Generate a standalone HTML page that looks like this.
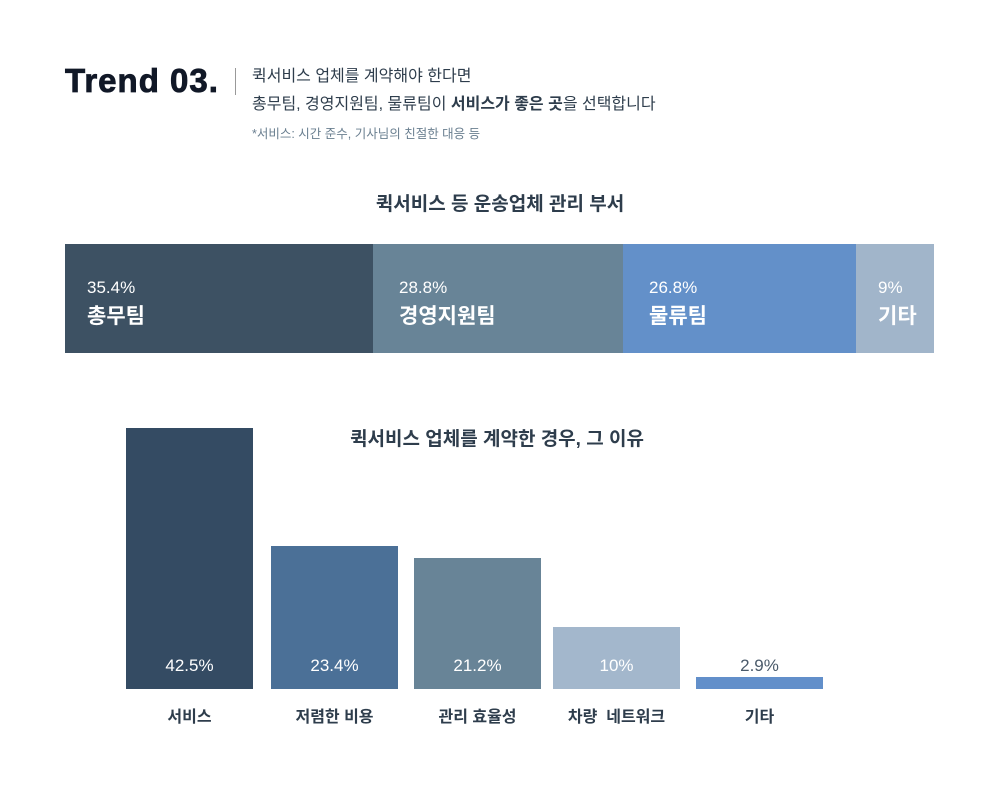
<!DOCTYPE html>
<html><head><meta charset="utf-8"><style>
body{margin:0;width:1000px;height:787px;background:#fff;position:relative;overflow:hidden;font-family:"Liberation Sans","Noto Sans CJK KR",sans-serif;color:#2e3d4c}
.a{position:absolute}
.seg{position:absolute;top:244px;height:109px;color:#fff}
.seg .p{position:absolute;left:22px;top:34px;font-size:17px}
.seg .n{position:absolute;left:22px;top:56px;font-size:21px;font-weight:bold}
.bar{position:absolute;bottom:98px;width:127px}
.v{position:absolute;top:656px;width:127px;text-align:center;font-size:17px;color:#fff}
.l{position:absolute;top:703px;width:127px;text-align:center;font-size:16px;font-weight:bold;white-space:nowrap}
</style></head><body>
<div class="a" style="left:65px;top:62px;font-size:33px;font-weight:900;color:#111827;letter-spacing:1px;-webkit-text-stroke:0.8px #111827">Trend 03.</div>
<div class="a" style="left:235px;top:68px;width:1px;height:27px;background:#999"></div>
<div class="a" style="left:252px;top:63px;font-size:16px;line-height:28px;color:#2e3d4c">퀵서비스 업체를 계약해야 한다면<br>총무팀, 경영지원팀, 물류팀이 <b>서비스가 좋은 곳</b>을 선택합니다</div>
<div class="a" style="left:252px;top:123px;font-size:12.5px;color:#6a7f90">*서비스: 시간 준수, 기사님의 친절한 대응 등</div>
<div class="a" style="left:0;width:1000px;top:189px;text-align:center;font-size:19px;font-weight:bold">퀵서비스 등 운송업체 관리 부서</div>
<div class="seg" style="left:65px;width:308px;background:#3d5163"><div class="p">35.4%</div><div class="n">총무팀</div></div>
<div class="seg" style="left:373px;width:250px;background:#688497"><div class="p" style="left:26px">28.8%</div><div class="n" style="left:26px">경영지원팀</div></div>
<div class="seg" style="left:623px;width:233px;background:#6390c9"><div class="p" style="left:26px">26.8%</div><div class="n" style="left:26px">물류팀</div></div>
<div class="seg" style="left:856px;width:78px;background:#a1b5ca"><div class="p">9%</div><div class="n">기타</div></div>
<div class="a" style="left:0;width:994px;top:424px;text-align:center;font-size:19px;font-weight:bold">퀵서비스 업체를 계약한 경우, 그 이유</div>
<div class="bar" style="left:126px;height:261px;background:#344b63"></div>
<div class="bar" style="left:271px;height:143px;background:#4b7097"></div>
<div class="bar" style="left:414px;height:131px;background:#688497"></div>
<div class="bar" style="left:553px;height:62px;background:#a3b7cc"></div>
<div class="bar" style="left:696px;height:12px;background:#628fca"></div>
<div class="v" style="left:126px">42.5%</div>
<div class="v" style="left:271px">23.4%</div>
<div class="v" style="left:414px">21.2%</div>
<div class="v" style="left:553px">10%</div>
<div class="v" style="left:696px;color:#4a5a6a">2.9%</div>
<div class="l" style="left:126px">서비스</div>
<div class="l" style="left:271px">저렴한 비용</div>
<div class="l" style="left:414px">관리 효율성</div>
<div class="l" style="left:553px">차량&nbsp; 네트워크</div>
<div class="l" style="left:696px">기타</div>
</body></html>
